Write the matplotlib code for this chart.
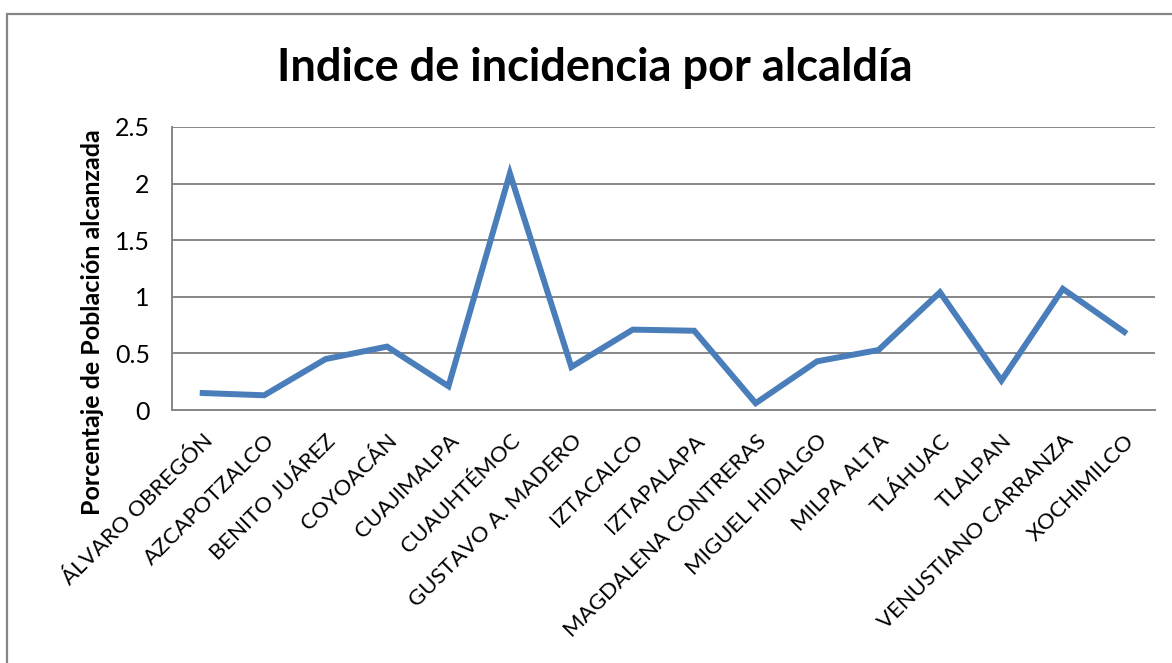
import matplotlib
matplotlib.use("Agg")
from matplotlib import pyplot as plt
from matplotlib.patches import Rectangle

alcaldias = ['ÁLVARO OBREGÓN', 'AZCAPOTZALCO', 'BENITO JUÁREZ', 'COYOACÁN',
             'CUAJIMALPA', 'CUAUHTÉMOC', 'GUSTAVO A. MADERO', 'IZTACALCO',
             'IZTAPALAPA', 'MAGDALENA CONTRERAS', 'MIGUEL HIDALGO', 'MILPA ALTA',
             'TLÁHUAC', 'TLALPAN', 'VENUSTIANO CARRANZA', 'XOCHIMILCO']
indice = [0.15, 0.13, 0.45, 0.56, 0.21, 2.09, 0.38, 0.71,
          0.70, 0.06, 0.43, 0.53, 1.04, 0.26, 1.07, 0.69]
yticks = [0, 0.5, 1, 1.5, 2, 2.5]
ytick_labels = ['0', '0.5', '1', '1.5', '2', '2.5']

plt.rcParams['font.family'] = ['Lato', 'DejaVu Sans']
gris = '#868686'
azul = '#4A7EBB'

fig = plt.figure(figsize=(11.72, 6.63), dpi=100)
ax = fig.add_axes([172 / 1172, 1 - 410 / 663, (1155 - 172) / 1172, (410 - 127) / 663])

# marco del grafico
fig.patches.append(Rectangle((7 / 1172, -0.05), 1.1, 1 - 14 / 663 + 0.05,
                             transform=fig.transFigure, fill=False,
                             edgecolor=gris, linewidth=1.6))

x = list(range(len(alcaldias)))
ax.plot(x, indice, color=azul, linewidth=4.3, solid_joinstyle='miter')

ax.set_xlim(-0.5, len(alcaldias) - 0.5)
ax.set_ylim(0, 2.5)
ax.set_yticks(yticks)
ax.set_yticklabels(ytick_labels, fontsize=18)
ax.set_xticks(x)
ax.set_xticklabels(alcaldias, rotation=45, ha='right', va='top',
                   rotation_mode='anchor', fontsize=16)
ax.tick_params(length=0)
ax.tick_params(axis='y', pad=16)
ax.tick_params(axis='x', pad=15)
ax.grid(axis='y', color=gris, linewidth=1.4)
ax.set_axisbelow(True)
for s in ['top', 'right']:
    ax.spines[s].set_visible(False)
for s in ['left', 'bottom']:
    ax.spines[s].set_color(gris)
    ax.spines[s].set_linewidth(1.4)

fig.text(595 / 1172, 1 - 68 / 663, 'Indice de incidencia por alcaldía',
         ha='center', va='center', fontsize=32.5, fontweight='bold')
fig.text(93 / 1172, 1 - 322 / 663, 'Porcentaje de Población alcanzada',
         ha='center', va='center', rotation=90, fontsize=18, fontweight='bold')

fig.savefig('out.png', dpi=100)
